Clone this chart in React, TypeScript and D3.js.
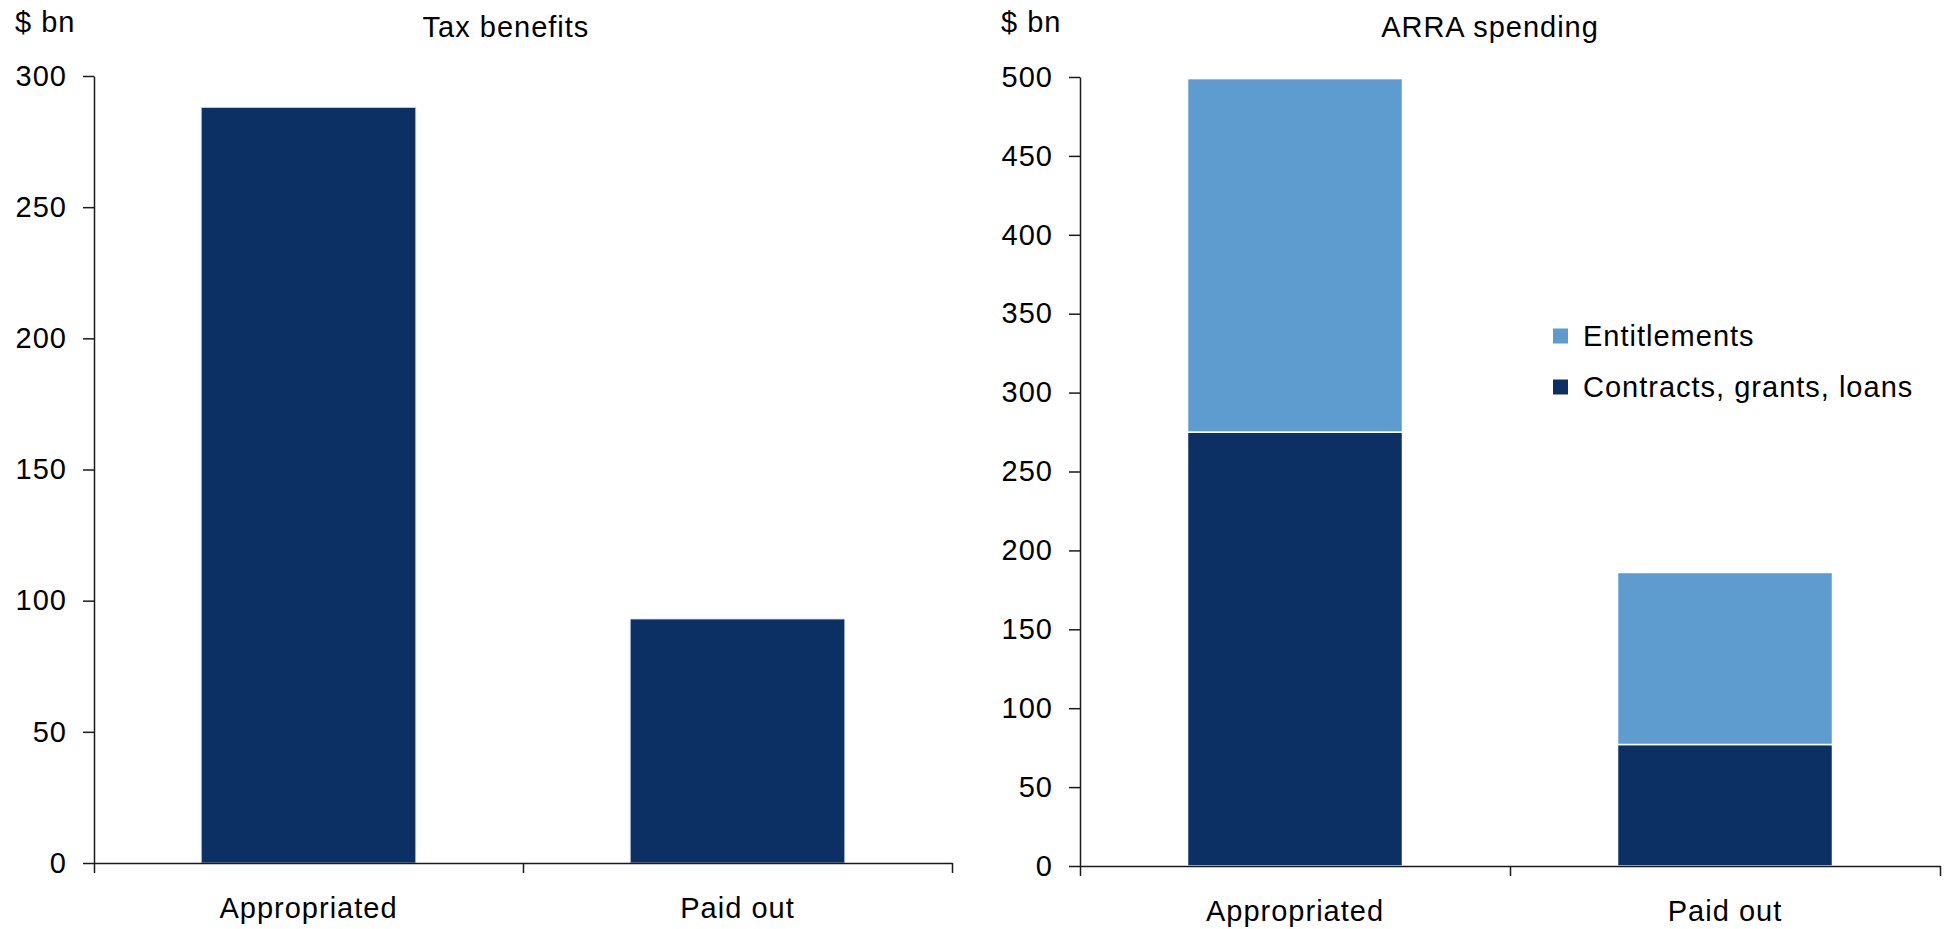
import { useEffect, useRef } from 'react';
import * as d3 from 'd3';

// values ($ bn)
const categories = ['Appropriated', 'Paid out'];
const taxBenefits = [288, 93];
const contractsGrantsLoans = [275, 77];
const entitlements = [224, 109];
const taxTicks = [0, 50, 100, 150, 200, 250, 300];
const arraTicks = [0, 50, 100, 150, 200, 250, 300, 350, 400, 450, 500];
const seriesNames = ['Entitlements', 'Contracts, grants, loans'];

const COLORS = {
  navy: '#0d3064',
  light: '#5e9ccf',
  axis: '#1a1a1a',
  text: '#000'
};

const FONT = '"Liberation Sans", Arial, sans-serif';
const FONT_SIZE = 29;

export default function App() {
  const svgRef = useRef<SVGSVGElement>(null);

  useEffect(() => {
    document.body.style.margin = '0';
    if (!svgRef.current) return;
    const svg = d3.select(svgRef.current);
    svg.selectAll('*').remove();

    const txt = (sel: any) =>
      sel
        .attr('font-family', FONT)
        .attr('font-size', FONT_SIZE)
        .attr('letter-spacing', 1)
        .attr('fill', COLORS.text);

    // draws one panel's axes and returns its scales
    const panel = (
      left: number,
      right: number,
      top: number,
      bottom: number,
      max: number,
      ticks: number[],
      title: string,
      titleX: number,
      unitX: number
    ) => {
      const y = d3.scaleLinear().domain([0, max]).range([bottom, top]);
      const x = d3
        .scaleBand()
        .domain(categories)
        .range([left, right])
        .paddingInner(0.5)
        .paddingOuter(0.25);
      const xEdges = d3.scaleLinear().domain([0, categories.length]).range([left, right]);

      const g = svg.append('g');

      const yAxis = g
        .append('g')
        .attr('transform', `translate(${left},0)`)
        .call(d3.axisLeft(y).tickValues(ticks).tickSize(11).tickSizeOuter(0).tickPadding(16));
      yAxis.selectAll('path, line').attr('stroke', COLORS.axis).attr('stroke-width', 1.5);
      yAxis.selectAll('text').call(txt);

      const xAxis = g
        .append('g')
        .attr('transform', `translate(0,${bottom})`)
        .call(
          d3
            .axisBottom(xEdges)
            .tickValues(d3.range(categories.length + 1))
            .tickFormat(() => '')
            .tickSize(10)
            .tickSizeOuter(0)
        );
      xAxis.selectAll('path, line').attr('stroke', COLORS.axis).attr('stroke-width', 1.5);

      g.selectAll('.cat')
        .data(categories)
        .enter()
        .append('text')
        .attr('x', d => x(d)! + x.bandwidth() / 2)
        .attr('y', bottom + 55)
        .attr('text-anchor', 'middle')
        .call(txt)
        .text(d => d);

      g.append('text')
        .attr('x', titleX)
        .attr('y', 37)
        .attr('text-anchor', 'middle')
        .call(txt)
        .text(title);

      g.append('text')
        .attr('x', unitX)
        .attr('y', 32)
        .call(txt)
        .text('$ bn');

      return { x, y, g };
    };

    // left panel: tax benefits
    const p1 = panel(94, 952, 76, 863, 300, taxTicks, 'Tax benefits', 506, 15);
    p1.g
      .insert('g', ':first-child')
      .selectAll('rect')
      .data(categories)
      .enter()
      .append('rect')
      .attr('x', d => p1.x(d)!)
      .attr('width', p1.x.bandwidth())
      .attr('y', (_, i) => p1.y(taxBenefits[i]))
      .attr('height', (_, i) => p1.y(0) - p1.y(taxBenefits[i]))
      .attr('fill', COLORS.navy)
      .attr('stroke', '#c9d6e8')
      .attr('stroke-width', 0.8);

    // right panel: ARRA spending, stacked
    const p2 = panel(1080, 1940, 77, 866, 500, arraTicks, 'ARRA spending', 1490, 1001);
    const rows = categories.map((c, i) => ({
      category: c,
      contracts: contractsGrantsLoans[i],
      entitlements: entitlements[i]
    }));
    const stack = d3.stack<any>().keys(['contracts', 'entitlements'])(rows);
    const fills = [COLORS.navy, COLORS.light];
    const bars = p2.g.insert('g', ':first-child');
    stack.forEach((layer, li) => {
      bars
        .append('g')
        .selectAll('rect')
        .data(layer)
        .enter()
        .append('rect')
        .attr('x', d => p2.x(d.data.category)!)
        .attr('width', p2.x.bandwidth())
        .attr('y', d => p2.y(d[1]))
        .attr('height', d => p2.y(d[0]) - p2.y(d[1]))
        .attr('fill', fills[li])
        .attr('stroke', '#fff')
        .attr('stroke-width', 1.5);
    });

    // legend
    const legend = svg.append('g').attr('transform', 'translate(1553,336)');
    const legendColors = [COLORS.light, COLORS.navy];
    seriesNames.forEach((name, i) => {
      legend
        .append('rect')
        .attr('x', 0)
        .attr('y', i * 51 - 7.5)
        .attr('width', 15)
        .attr('height', 15)
        .attr('fill', legendColors[i]);
      legend
        .append('text')
        .attr('x', 30)
        .attr('y', i * 51)
        .attr('dominant-baseline', 'central')
        .call(txt)
        .text(name);
    });
  }, []);

  return (
    <svg
      ref={svgRef}
      width={1949}
      height={929}
      viewBox="0 0 1949 929"
      style={{ display: 'block', position: 'absolute', left: 0, top: 0, background: '#fff' }}
    />
  );
}
